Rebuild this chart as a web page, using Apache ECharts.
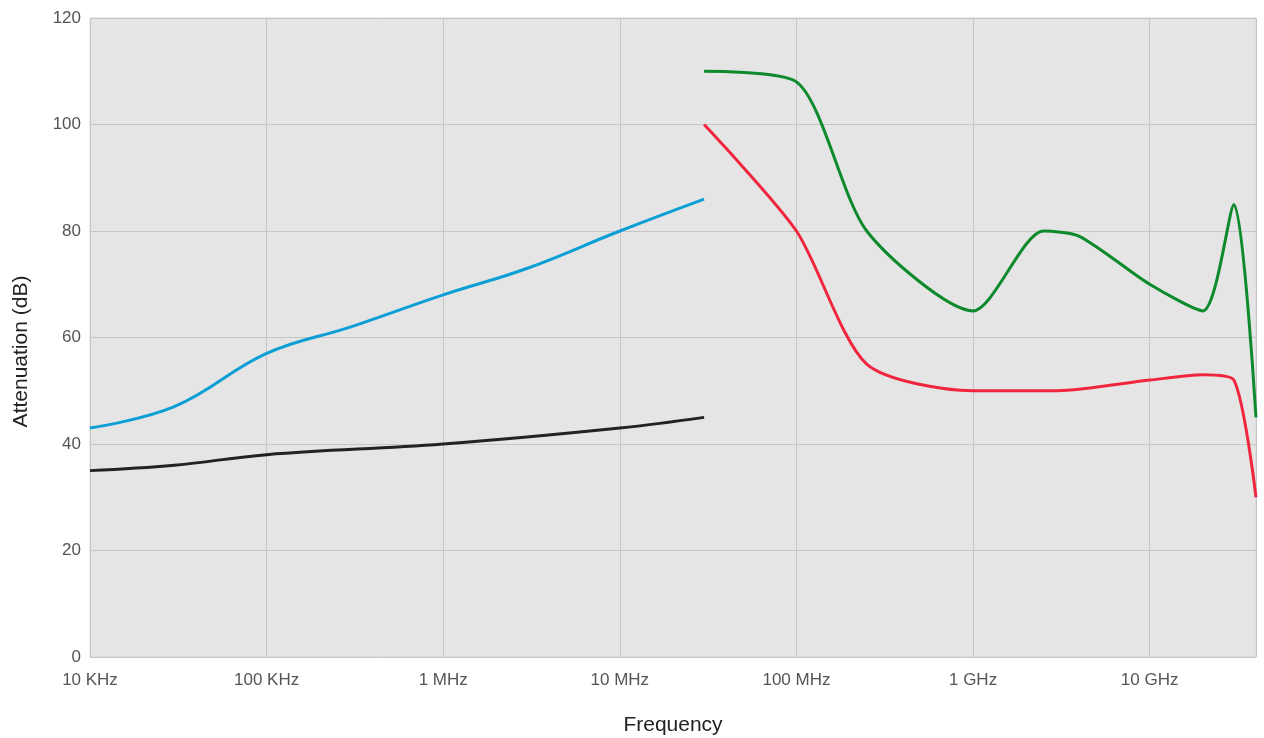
<!DOCTYPE html>
<html>
<head>
<meta charset="utf-8">
<script src="https://cdn.jsdelivr.net/npm/echarts@6/dist/echarts.min.js"></script>
<style>
html,body{margin:0;padding:0;background:#fff;}
#c{width:1264px;height:738px;}
</style>
</head>
<body>
<div id="c"></div>
<script>
const blueFreq = [1e4, 3e4, 1e5, 3e5, 1e6, 3e6, 1e7, 3e7];
const blueVals = [43, 47, 57, 62, 68, 73, 80, 86];
const blackFreq = [1e4, 3e4, 1e5, 1e6, 1e7, 3e7];
const blackVals = [35, 36, 38, 40, 43, 45];
const greenFreq = [3e7, 1e8, 2.5e8, 1e9, 2.5e9, 4e9, 1e10, 2e10, 3e10, 4e10];
const greenVals = [110, 108, 80, 65, 80, 79, 70, 65, 85, 45];
const redFreq = [3e7, 1e8, 2.5e8, 1e9, 3e9, 1e10, 2e10, 3e10, 4e10];
const redVals = [100, 80, 55, 50, 50, 52, 53, 52, 30];
const freqLabels = {1e4:'10 KHz',1e5:'100 KHz',1e6:'1 MHz',1e7:'10 MHz',1e8:'100 MHz',1e9:'1 GHz',1e10:'10 GHz'};

function pairs(xs, ys){ return xs.map((x,i)=>[x, ys[i]]); }

const FONT = 'Liberation Sans, Arial, sans-serif';
const chart = echarts.init(document.getElementById('c'), null, {renderer:'canvas'});
const lineCommon = {type:'line', showSymbol:false, symbol:'none'};
chart.setOption({
  animation:false,
  grid:{left:90, right:8, top:18, bottom:81, outerBoundsMode:'none', containLabel:false, show:true, backgroundColor:'#e5e5e5', borderColor:'#d6d6d6', borderWidth:1},
  xAxis:{
    type:'log', logBase:10, min:1e4, max:4e10,
    name:'Frequency', nameLocation:'middle', nameGap:58,
    nameTextStyle:{color:'#222', fontSize:21, fontFamily:FONT},
    axisLine:{show:false}, axisTick:{show:false},
    axisLabel:{color:'#555', fontSize:17, fontFamily:FONT, margin:15, showMaxLabel:false,
      formatter:function(v){ for (const key in freqLabels){ if (Math.abs(Number(key)-v)/Number(key) < 1e-6) return freqLabels[key]; } return ''; }},
    splitLine:{show:true, lineStyle:{color:'#c6c6c6', width:1}},
    minorTick:{show:false}
  },
  yAxis:{
    type:'value', min:0, max:120, interval:20,
    name:'Attenuation (dB)', nameLocation:'middle', nameGap:58, nameRotate:90,
    nameTextStyle:{color:'#222', fontSize:21, fontFamily:FONT, padding:[0, 28, 0, 0]},
    axisLine:{show:false}, axisTick:{show:false},
    axisLabel:{color:'#555', fontSize:17, fontFamily:FONT, margin:9},
    splitLine:{show:true, lineStyle:{color:'#c6c6c6', width:1}}
  },
  series:[
    Object.assign({}, lineCommon, {name:'blue', smooth:0.4, data:pairs(blueFreq, blueVals), lineStyle:{color:'#0b9fd6', width:3}, itemStyle:{color:'#0b9fd6'}}),
    Object.assign({}, lineCommon, {name:'black', smooth:0.4, data:pairs(blackFreq, blackVals), lineStyle:{color:'#222222', width:3}, itemStyle:{color:'#222222'}}),
    Object.assign({}, lineCommon, {name:'green', smooth:0.25, data:pairs(greenFreq, greenVals), lineStyle:{color:'#0d8a2c', width:3}, itemStyle:{color:'#0d8a2c'}}),
    Object.assign({}, lineCommon, {name:'red', smooth:0.25, data:pairs(redFreq, redVals), lineStyle:{color:'#f0263e', width:3}, itemStyle:{color:'#f0263e'}})
  ]
});
</script>
</body>
</html>
